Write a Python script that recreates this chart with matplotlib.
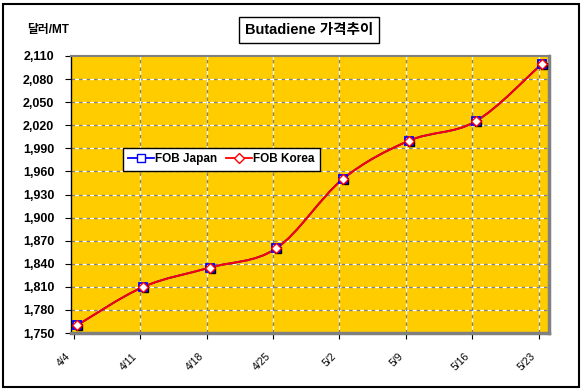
import matplotlib.pyplot as plt
import matplotlib.transforms as mtransforms
from matplotlib.path import Path
from matplotlib.patches import PathPatch, Rectangle
from matplotlib.lines import Line2D

plt.rcParams['font.family'] = ['Liberation Sans', 'Noto Sans CJK KR', 'DejaVu Sans']

# данные с графика
dates = ['4/4', '4/11', '4/18', '4/25', '5/2', '5/9', '5/16', '5/23']
fob_japan = [1760, 1810, 1835, 1860, 1950, 2000, 2025, 2100]
fob_korea = [1760, 1810, 1835, 1860, 1950, 2000, 2025, 2100]
y_ticks = [1750, 1780, 1810, 1840, 1870, 1900, 1930, 1960, 1990, 2020, 2050, 2080, 2110]


def smooth_path(xs, ys):
    # сглаживание как в Excel (кривые Безье через точки)
    n = len(xs)
    verts = [(xs[0], ys[0])]
    codes = [Path.MOVETO]
    for i in range(n - 1):
        a = i - 1 if i > 0 else i
        b = i + 2 if i + 2 < n else i + 1
        c1 = (xs[i] + (xs[i + 1] - xs[a]) / 6, ys[i] + (ys[i + 1] - ys[a]) / 6)
        c2 = (xs[i + 1] - (xs[b] - xs[i]) / 6, ys[i + 1] - (ys[b] - ys[i]) / 6)
        verts += [c1, c2, (xs[i + 1], ys[i + 1])]
        codes += [Path.CURVE4] * 3
    return Path(verts, codes)


fig = plt.figure(figsize=(5.85, 3.91), dpi=100)
ax = fig.add_axes([71 / 585, 1 - 333 / 391, 478 / 585, 277 / 391])
ax.set_facecolor('#FFCC00')

x = list(range(len(dates)))

# сетка: серые и белые штрихи вперемешку
for yv in y_ticks[1:-1]:
    ax.axhline(yv, color='#808080', lw=0.9, ls=(0, (3, 3)), zorder=1)
    ax.axhline(yv, color='white', lw=0.9, ls=(3, (3, 3)), zorder=1)
for xv in x[1:]:
    ax.axvline(xv - 0.05, color='#808080', lw=0.9, ls=(0, (3, 3)), zorder=1)
    ax.axvline(xv - 0.05, color='white', lw=0.9, ls=(3, (3, 3)), zorder=1)

ax.add_patch(PathPatch(smooth_path(x, fob_japan), fill=False, ec='#0000FF', lw=1.4, zorder=2))
ax.add_patch(PathPatch(smooth_path(x, fob_korea), fill=False, ec='#FF0000', lw=1.4, zorder=3))

# тени маркеров
ax.plot([v + 0.03 for v in x], [v - 2.5 for v in fob_japan], 's', ms=5, mfc='black', mec='black', ls='none', zorder=3)
ax.plot(x, fob_japan, 's', ms=5.6, mfc='white', mec='#0000FF', mew=1.3, ls='none', zorder=4)
ax.plot(x, fob_korea, 'D', ms=4.6, mfc='white', mec='#FF0000', mew=1.0, ls='none', zorder=5)

ax.set_xlim(-0.09, 7.105)
ax.set_ylim(1750, 2110)
ax.set_yticks(y_ticks)
ax.set_yticklabels([f'{v:,}' for v in y_ticks], fontsize=9, fontweight='bold')
ax.set_xticks([v - 0.05 for v in x])
ax.set_xticklabels(dates, rotation=45, ha='right', va='top', rotation_mode='anchor', fontsize=7.5)
ax.tick_params(axis='both', direction='out', length=4, color='black', width=0.8)
ax.tick_params(axis='y', pad=8)
ax.tick_params(axis='x', pad=9)
shift = mtransforms.ScaledTranslation(-8 / 100, 0, fig.dpi_scale_trans)
for lbl in ax.get_xticklabels():
    lbl.set_transform(lbl.get_transform() + shift)

for side in ['top', 'left']:
    ax.spines[side].set_color('#808080')
    ax.spines[side].set_linewidth(1.5)
for side in ['right', 'bottom']:
    ax.spines[side].set_color('#808080')
    ax.spines[side].set_linewidth(2.5)
ax.spines['left'].set_color('black')
ax.spines['left'].set_linewidth(1)

handles = [
    Line2D([], [], color='#0000FF', lw=1.3, marker='s', ms=5.6, mfc='white', mec='#0000FF'),
    Line2D([], [], color='#FF0000', lw=1.3, marker='D', ms=4.6, mfc='white', mec='#FF0000'),
]
leg = ax.legend(handles, ['FOB Japan', 'FOB Korea'], ncol=2, loc='upper left',
                bbox_to_anchor=(117 / 585, 1 - 142 / 391), bbox_transform=fig.transFigure,
                fancybox=False, framealpha=1, edgecolor='black', handlelength=2.2,
                handletextpad=0.1, columnspacing=0.7, borderpad=0.45,
                prop={'size': 8.5, 'weight': 'bold'})
leg.get_frame().set_linewidth(1.0)

fig.text(309 / 585, 1 - 30 / 391, 'Butadiene 가격추이', ha='center', va='center',
         fontsize=10.5, fontweight='bold',
         bbox=dict(boxstyle='square,pad=0.4', fc='white', ec='black', lw=1))
fig.text(27 / 585, 1 - 30 / 391, '달러/MT', ha='left', va='center', fontsize=8.5, fontweight='bold')

fig.add_artist(Rectangle((3 / 585, 4 / 391), 576 / 585, 383 / 391, transform=fig.transFigure,
                         fill=False, ec='black', lw=1.5))

plt.savefig('out.png', dpi=100)
